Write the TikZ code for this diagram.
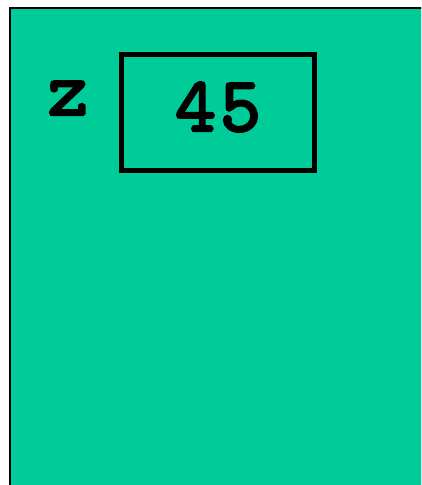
\documentclass[tikz,border=0pt]{standalone}
\usepackage{fontspec}
\newfontfamily\memfont[FakeBold=3]{lmmono10-regular.otf}
\usetikzlibrary{positioning}

\begin{document}
\begin{tikzpicture}[x=1pt, y=-1pt]
    % --- Colores ---
    \definecolor{framegreen}{RGB}{0,204,153}
    \tikzset{
        valbox/.style={draw=black, line width=5pt, minimum width=193pt, minimum height=116pt, inner sep=0pt},
        valtext/.style={font=\memfont\fontsize{78}{78}\selectfont, inner sep=0pt}
    }

    % --- Marco ---
    \useasboundingbox (0,0) rectangle (421,485);
    \clip (0,0) rectangle (421,485);
    \draw[fill=framegreen, line width=2pt] (9.5,7.5) rectangle (440,500);

    % --- Variable z ---
    \node[valbox] (zbox) at (218,112.5) {};
    \node[valtext, anchor=base] (zval) at (218,131) {4\kern4pt 5};
    \node[valtext, anchor=base] (zname) at (68,115) {z};

\end{tikzpicture}
\end{document}
